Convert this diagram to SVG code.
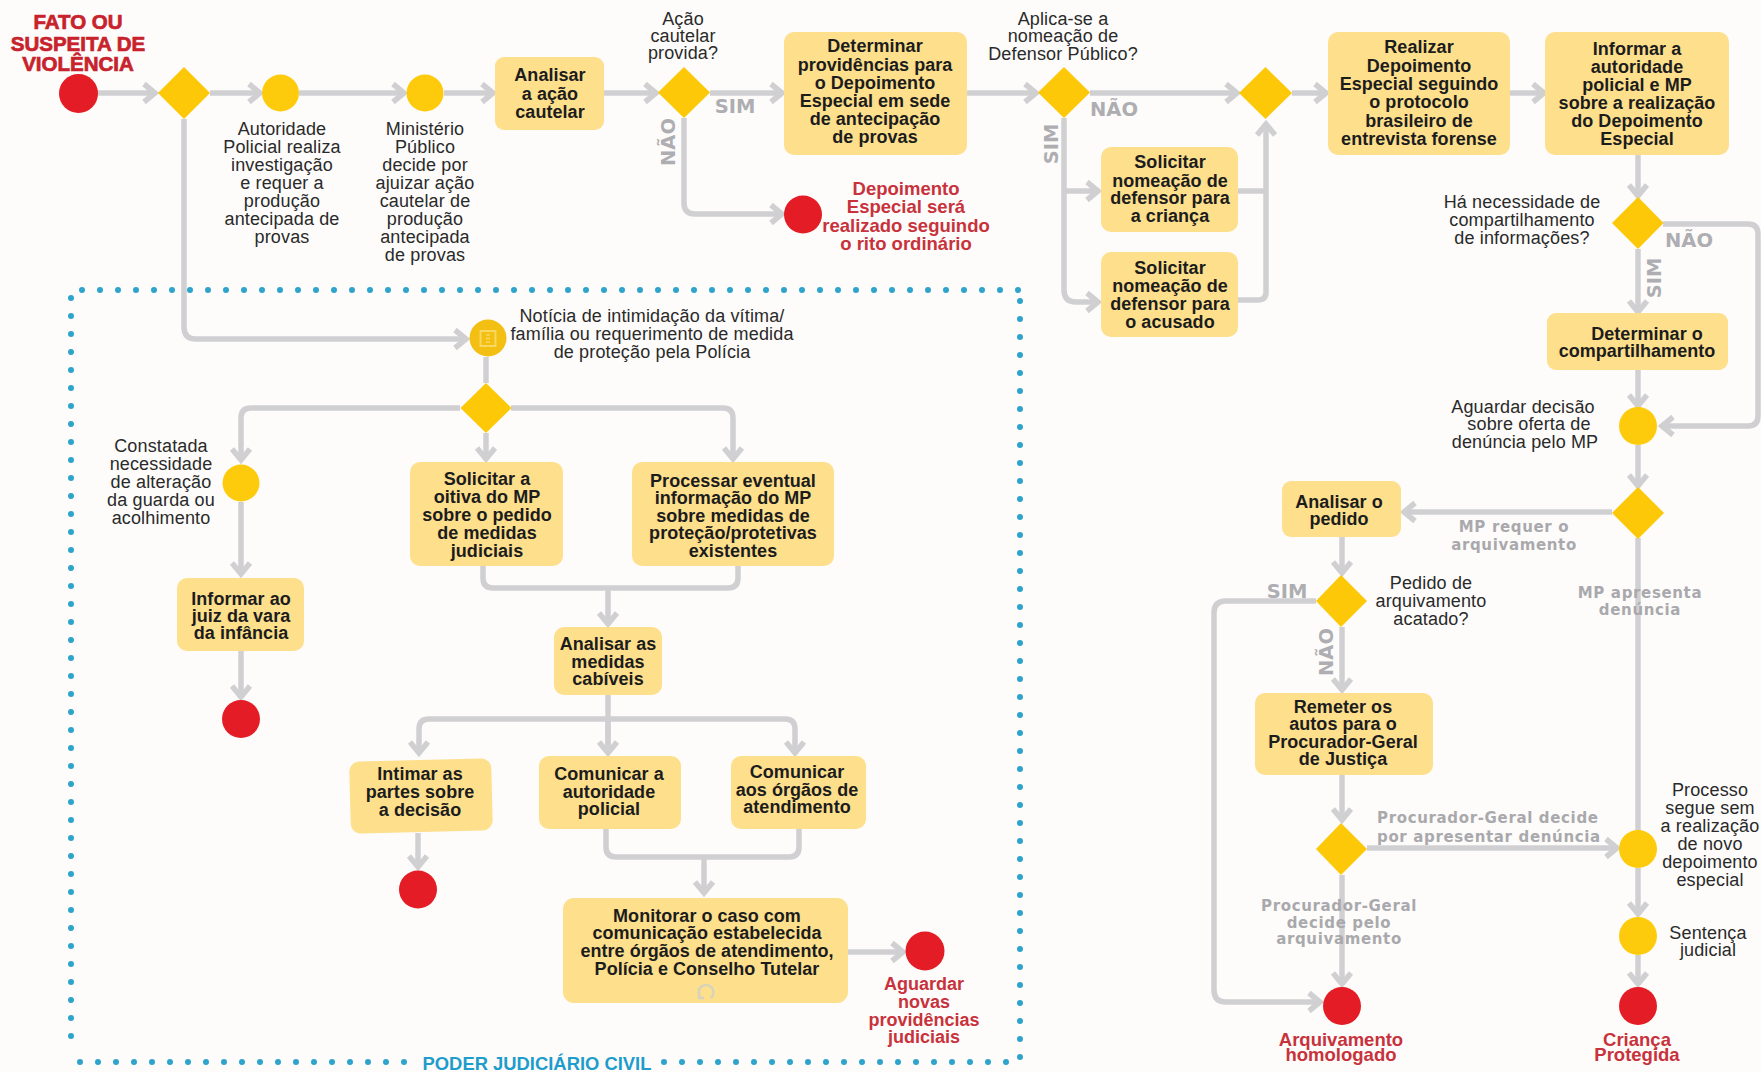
<svg xmlns="http://www.w3.org/2000/svg" width="1761" height="1072" viewBox="0 0 1761 1072">
<style>
text{font-family:"Liberation Sans",Arial,sans-serif;text-anchor:middle}
.box{fill:#fddf8c}
.dia{fill:#fcc808}
.yel{fill:#fdcb0b}
.red{fill:#e31c25}
.t{font-size:18px;letter-spacing:.15px;fill:#2a2a2a}
.b{font-size:18px;letter-spacing:.04px;font-weight:700;fill:#1c1c1c}
.r{font-size:18.5px;font-weight:700;fill:#c8323c}
.h{font-size:20.5px;font-weight:700;fill:#c8222c;stroke:#c8222c;stroke-width:.7}
.g{font-family:"DejaVu Sans",sans-serif;font-size:15px;letter-spacing:.65px;font-weight:700;fill:#a9a9ad}
.o{font-family:"DejaVu Sans",sans-serif;font-size:19.5px;font-weight:700;fill:#aeaeb2}
.c{fill:none;stroke:#d0d0d3;stroke-width:5.5;stroke-linejoin:round}
.a{marker-end:url(#ah)}
.dot{fill:none;stroke:#2ea3cc;stroke-width:6;stroke-linecap:round;stroke-dasharray:0 18}
</style>
<defs>
<marker id="ah" markerUnits="userSpaceOnUse" markerWidth="22" markerHeight="26" refX="16" refY="13" orient="auto" overflow="visible">
<path d="M4 4 L15 13 L4 22" fill="none" stroke="#d0d0d3" stroke-width="5.500"/>
</marker>
</defs>
<rect width="1761" height="1072" fill="#fdfcfa"/>
<g id="connectors">
<path class="c a" d="M97 93H156"/>
<path class="c a" d="M210 93H261"/>
<path class="c a" d="M299 93H405"/>
<path class="c a" d="M444 93H494"/>
<path class="c a" d="M604 93H657"/>
<path class="c a" d="M710 93H783"/>
<path class="c a" d="M967 93H1037"/>
<path class="c a" d="M1090 93H1238"/>
<path class="c a" d="M1292 93H1327"/>
<path class="c a" d="M1509 93H1545"/>
<path class="c a" d="M184 119V327Q184 339 196 339H467"/>
<path class="c a" d="M684 118V203Q684 214 695 214H783"/>
<path class="c a" d="M1064 118V290Q1064 302 1076 302H1099"/>
<path class="c a" d="M1064 191H1099"/>
<path class="c" d="M1238 191H1266"/>
<path class="c a" d="M1238 300H1258Q1266 300 1266 292V123"/>
<path class="c a" d="M1638 155V197"/>
<path class="c a" d="M1638 249V313"/>
<path class="c a" d="M1638 370V407"/>
<path class="c a" d="M1638 445V487"/>
<path class="c a" d="M1663 224H1748Q1758 224 1758 234V416Q1758 426 1748 426H1661"/>
<path class="c a" d="M1612 512H1403"/>
<path class="c" d="M1638 538V830"/>
<path class="c a" d="M1638 868V915"/>
<path class="c a" d="M1638 955V985"/>
<path class="c a" d="M1342 537V574"/>
<path class="c a" d="M1316 601H1226Q1214 601 1214 613V990Q1214 1002 1226 1002H1321"/>
<path class="c a" d="M1342 627V691"/>
<path class="c a" d="M1342 775V821"/>
<path class="c a" d="M1367 848H1618"/>
<path class="c a" d="M1342 875V985"/>
<path class="c" d="M486 357V383"/>
<path class="c a" d="M460 408H251Q241 408 241 418V461"/>
<path class="c a" d="M486 433V460"/>
<path class="c a" d="M511 408H723Q733 408 733 418V460"/>
<path class="c a" d="M241 502V575"/>
<path class="c a" d="M241 651V698"/>
<path class="c" d="M483 566V578Q483 588 493 588H728Q738 588 738 578V566"/>
<path class="c a" d="M608 588V625"/>
<path class="c" d="M608 695V753"/>
<path class="c a" d="M608 719H429Q419 719 419 729V754"/>
<path class="c a" d="M608 719V754"/>
<path class="c a" d="M608 719H785Q795 719 795 729V754"/>
<path class="c a" d="M418 833V868"/>
<path class="c" d="M606 829V847Q606 857 616 857H789Q799 857 799 847V829"/>
<path class="c a" d="M704 857V894"/>
<path class="c a" d="M848 952H904"/>
</g>
<g id="frame">
<path class="dot" d="M82 290H1020"/>
<path class="dot" d="M1020 301V1059"/>
<path class="dot" d="M71 298V1052"/>
<path class="dot" d="M80 1062H414"/>
<path class="dot" d="M664 1062H1008"/>
<text x="537" y="1070" style="font-size:18.400px;font-weight:700;fill:#1e9ccb">PODER JUDICIÁRIO CIVIL</text>
</g>
<g id="start"><circle class="red" cx="78.500" cy="93.500" r="19.500"/><text class="h"><tspan x="78" y="29">FATO OU</tspan><tspan x="78" y="51">SUSPEITA DE</tspan><tspan x="78" y="71">VIOLÊNCIA</tspan></text></g>
<g id="d1"><path class="dia" d="M184 67L210 93L184 119L158 93Z"/></g>
<g id="n-autoridade"><circle class="yel" cx="280.500" cy="93" r="18.500"/><text class="t"><tspan x="282" y="135">Autoridade</tspan><tspan x="282" y="153">Policial realiza</tspan><tspan x="282" y="171">investigação</tspan><tspan x="282" y="189">e requer a</tspan><tspan x="282" y="207">produção</tspan><tspan x="282" y="225">antecipada de</tspan><tspan x="282" y="243">provas</tspan></text></g>
<g id="n-mp"><circle class="yel" cx="425" cy="93" r="18.500"/><text class="t"><tspan x="425" y="135">Ministério</tspan><tspan x="425" y="153">Público</tspan><tspan x="425" y="171">decide por</tspan><tspan x="425" y="189">ajuizar ação</tspan><tspan x="425" y="207">cautelar de</tspan><tspan x="425" y="225">produção</tspan><tspan x="425" y="243">antecipada</tspan><tspan x="425" y="261">de provas</tspan></text></g>
<g id="n-analisar-acao"><rect class="box" x="495" y="57" width="109" height="73" rx="9"/><text class="b"><tspan x="550" y="81">Analisar</tspan><tspan x="550" y="100">a ação</tspan><tspan x="550" y="118">cautelar</tspan></text></g>
<g id="d2"><path class="dia" d="M684 67L710 92.500L684 118L658 92.500Z"/><text class="t"><tspan x="683" y="25">Ação</tspan><tspan x="683" y="42">cautelar</tspan><tspan x="683" y="59">provida?</tspan></text><text class="o" x="735" y="113">SIM</text><text class="o" transform="translate(675 142) rotate(-90)">NÃO</text></g>
<g id="n-determinar"><rect class="box" x="784" y="32" width="183" height="123" rx="10"/><text class="b"><tspan x="875" y="52">Determinar</tspan><tspan x="875" y="71">providências para</tspan><tspan x="875" y="89">o Depoimento</tspan><tspan x="875" y="107">Especial em sede</tspan><tspan x="875" y="125">de antecipação</tspan><tspan x="875" y="143">de provas</tspan></text></g>
<g id="n-rito"><circle class="red" cx="803" cy="214.500" r="19"/><text class="r"><tspan x="906" y="195">Depoimento</tspan><tspan x="906" y="213">Especial será</tspan><tspan x="906" y="232">realizado seguindo</tspan><tspan x="906" y="250">o rito ordinário</tspan></text></g>
<g id="d3"><path class="dia" d="M1064 67L1090 92.500L1064 118L1038 92.500Z"/><text class="t"><tspan x="1063" y="25">Aplica-se a</tspan><tspan x="1063" y="42">nomeação de</tspan><tspan x="1063" y="60">Defensor Público?</tspan></text><text class="o" x="1114" y="116">NÃO</text><text class="o" transform="translate(1058 144) rotate(-90)">SIM</text></g>
<g id="n-def-crianca"><rect class="box" x="1101" y="147" width="137" height="85" rx="10"/><text class="b"><tspan x="1170" y="168">Solicitar</tspan><tspan x="1170" y="187">nomeação de</tspan><tspan x="1170" y="204">defensor para</tspan><tspan x="1170" y="222">a criança</tspan></text></g>
<g id="n-def-acusado"><rect class="box" x="1101" y="252" width="137" height="85" rx="10"/><text class="b"><tspan x="1170" y="274">Solicitar</tspan><tspan x="1170" y="292">nomeação de</tspan><tspan x="1170" y="310">defensor para</tspan><tspan x="1170" y="328">o acusado</tspan></text></g>
<g id="d4"><path class="dia" d="M1265.500 67L1292 93L1265.500 119L1239 93Z"/></g>
<g id="n-realizar"><rect class="box" x="1328" y="32" width="182" height="123" rx="10"/><text class="b"><tspan x="1419" y="53">Realizar</tspan><tspan x="1419" y="72">Depoimento</tspan><tspan x="1419" y="90">Especial seguindo</tspan><tspan x="1419" y="108">o protocolo</tspan><tspan x="1419" y="127">brasileiro de</tspan><tspan x="1419" y="145">entrevista forense</tspan></text></g>
<g id="n-informar"><rect class="box" x="1545" y="32" width="184" height="123" rx="10"/><text class="b"><tspan x="1637" y="55">Informar a</tspan><tspan x="1637" y="73">autoridade</tspan><tspan x="1637" y="91">policial e MP</tspan><tspan x="1637" y="109">sobre a realização</tspan><tspan x="1637" y="127">do Depoimento</tspan><tspan x="1637" y="145">Especial</tspan></text></g>
<g id="d5"><path class="dia" d="M1638 197L1663.500 223L1638 249L1612 223Z"/><text class="t"><tspan x="1522" y="208">Há necessidade de</tspan><tspan x="1522" y="226">compartilhamento</tspan><tspan x="1522" y="244">de informações?</tspan></text><text class="o" x="1689" y="247">NÃO</text><text class="o" transform="translate(1661 278) rotate(-90)">SIM</text></g>
<g id="n-compart"><rect class="box" x="1547" y="313" width="181" height="57" rx="9"/><text class="b"><tspan x="1647" y="340">Determinar o</tspan><tspan x="1637" y="357">compartilhamento</tspan></text></g>
<g id="n-aguardar"><circle class="yel" cx="1638" cy="426" r="19"/><text class="t"><tspan x="1523" y="413">Aguardar decisão</tspan><tspan x="1529" y="430">sobre oferta de</tspan><tspan x="1525" y="448">denúncia pelo MP</tspan></text></g>
<g id="d6"><path class="dia" d="M1638 487L1664 513L1638 539L1612 513Z"/><text class="g"><tspan x="1514" y="532">MP requer o</tspan><tspan x="1514" y="550">arquivamento</tspan></text><text class="g"><tspan x="1640" y="598">MP apresenta</tspan><tspan x="1640" y="615">denúncia</tspan></text></g>
<g id="n-analisar-pedido"><rect class="box" x="1282" y="481" width="119" height="56" rx="9"/><text class="b"><tspan x="1339" y="508">Analisar o</tspan><tspan x="1339" y="525">pedido</tspan></text></g>
<g id="d7"><path class="dia" d="M1341 575L1367 601L1341 627L1316 601Z"/><text class="o" x="1287" y="598">SIM</text><text class="t"><tspan x="1431" y="589">Pedido de</tspan><tspan x="1431" y="607">arquivamento</tspan><tspan x="1431" y="625">acatado?</tspan></text><text class="o" transform="translate(1333 652) rotate(-90)">NÃO</text></g>
<g id="n-remeter"><rect class="box" x="1255" y="693" width="178" height="82" rx="10"/><text class="b"><tspan x="1343" y="713">Remeter os</tspan><tspan x="1343" y="730">autos para o</tspan><tspan x="1343" y="748">Procurador-Geral</tspan><tspan x="1343" y="765">de Justiça</tspan></text></g>
<g id="d8"><path class="dia" d="M1341 823L1367 849L1341 875L1316 849Z"/><text class="g" style="text-anchor:start"><tspan x="1377" y="823">Procurador-Geral decide</tspan><tspan x="1377" y="842">por apresentar denúncia</tspan></text><text class="g"><tspan x="1339" y="911">Procurador-Geral</tspan><tspan x="1339" y="928">decide pelo</tspan><tspan x="1339" y="944">arquivamento</tspan></text></g>
<g id="n-arquivamento"><circle class="red" cx="1342" cy="1006" r="19"/><text class="r"><tspan x="1341" y="1046">Arquivamento</tspan><tspan x="1341" y="1061">homologado</tspan></text></g>
<g id="n-processo"><circle class="yel" cx="1638" cy="849" r="19"/><text class="t"><tspan x="1710" y="796">Processo</tspan><tspan x="1710" y="814">segue sem</tspan><tspan x="1710" y="832">a realização</tspan><tspan x="1710" y="850">de novo</tspan><tspan x="1710" y="868">depoimento</tspan><tspan x="1710" y="886">especial</tspan></text></g>
<g id="n-sentenca"><circle class="yel" cx="1638" cy="936" r="19"/><text class="t"><tspan x="1708" y="939">Sentença</tspan><tspan x="1708" y="956">judicial</tspan></text></g>
<g id="n-crianca"><circle class="red" cx="1638" cy="1006" r="19"/><text class="r"><tspan x="1637" y="1046">Criança</tspan><tspan x="1637" y="1061">Protegida</tspan></text></g>
<g id="n-noticia"><circle cx="488" cy="338" r="18.500" fill="#f2bf12"/><rect x="480.500" y="331" width="15" height="15" fill="none" stroke="#f8d860" stroke-width="2"/><path d="M486 335h4M486 338.500h4M486 342h4" stroke="#f8d860" stroke-width="1.500"/><text class="t"><tspan x="652" y="322">Notícia de intimidação da vítima/</tspan><tspan x="652" y="340">família ou requerimento de medida</tspan><tspan x="652" y="358">de proteção pela Polícia</tspan></text></g>
<g id="d9"><path class="dia" d="M486 383L511.500 408L486 433L460.500 408Z"/></g>
<g id="n-constatada"><circle class="yel" cx="241" cy="483" r="18.500"/><text class="t"><tspan x="161" y="452">Constatada</tspan><tspan x="161" y="470">necessidade</tspan><tspan x="161" y="488">de alteração</tspan><tspan x="161" y="506">da guarda ou</tspan><tspan x="161" y="524">acolhimento</tspan></text></g>
<g id="n-informar-juiz"><rect class="box" x="177" y="578" width="127" height="73" rx="10"/><text class="b"><tspan x="241" y="605">Informar ao</tspan><tspan x="241" y="622">juiz da vara</tspan><tspan x="241" y="639">da infância</tspan></text></g>
<g id="end-juiz"><circle class="red" cx="241" cy="719" r="19"/></g>
<g id="n-solicitar-oitiva"><rect class="box" x="410" y="462" width="153" height="104" rx="10"/><text class="b"><tspan x="487" y="485">Solicitar a</tspan><tspan x="487" y="503">oitiva do MP</tspan><tspan x="487" y="521">sobre o pedido</tspan><tspan x="487" y="539">de medidas</tspan><tspan x="487" y="557">judiciais</tspan></text></g>
<g id="n-processar"><rect class="box" x="632" y="462" width="202" height="104" rx="10"/><text class="b"><tspan x="733" y="487">Processar eventual</tspan><tspan x="733" y="504">informação do MP</tspan><tspan x="733" y="522">sobre medidas de</tspan><tspan x="733" y="539">proteção/protetivas</tspan><tspan x="733" y="557">existentes</tspan></text></g>
<g id="n-analisar-medidas"><rect class="box" x="554" y="627" width="108" height="68" rx="10"/><text class="b"><tspan x="608" y="650">Analisar as</tspan><tspan x="608" y="668">medidas</tspan><tspan x="608" y="685">cabíveis</tspan></text></g>
<g id="n-intimar"><rect class="box" x="350" y="760" width="142" height="72" rx="10" transform="rotate(-1.500 421 796)"/><text class="b"><tspan x="420" y="780">Intimar as</tspan><tspan x="420" y="798">partes sobre</tspan><tspan x="420" y="816">a decisão</tspan></text></g>
<g id="end-intimar"><circle class="red" cx="418" cy="889.500" r="19"/></g>
<g id="n-comunicar-aut"><rect class="box" x="539" y="756" width="142" height="73" rx="10"/><text class="b"><tspan x="609" y="780">Comunicar a</tspan><tspan x="609" y="798">autoridade</tspan><tspan x="609" y="815">policial</tspan></text></g>
<g id="n-comunicar-org"><rect class="box" x="731" y="756" width="135" height="73" rx="10"/><text class="b"><tspan x="797" y="778">Comunicar</tspan><tspan x="797" y="796">aos órgãos de</tspan><tspan x="797" y="813">atendimento</tspan></text></g>
<g id="n-monitorar"><rect class="box" x="563" y="898" width="285" height="105" rx="11"/><text class="b"><tspan x="707" y="922">Monitorar o caso com</tspan><tspan x="707" y="939">comunicação estabelecida</tspan><tspan x="707" y="957">entre órgãos de atendimento,</tspan><tspan x="707" y="975">Polícia e Conselho Tutelar</tspan></text><path d="M701 998A7.500 7.500 0 1 1 711 998M699 988V998H704" fill="none" stroke="#d8d3bb" stroke-width="2.500"/></g>
<g id="n-aguardar-novas"><circle class="red" cx="925" cy="951" r="19.500"/><text class="r" style="font-size:18px"><tspan x="924" y="990">Aguardar</tspan><tspan x="924" y="1008">novas</tspan><tspan x="924" y="1026">providências</tspan><tspan x="924" y="1043">judiciais</tspan></text></g>
</svg>
